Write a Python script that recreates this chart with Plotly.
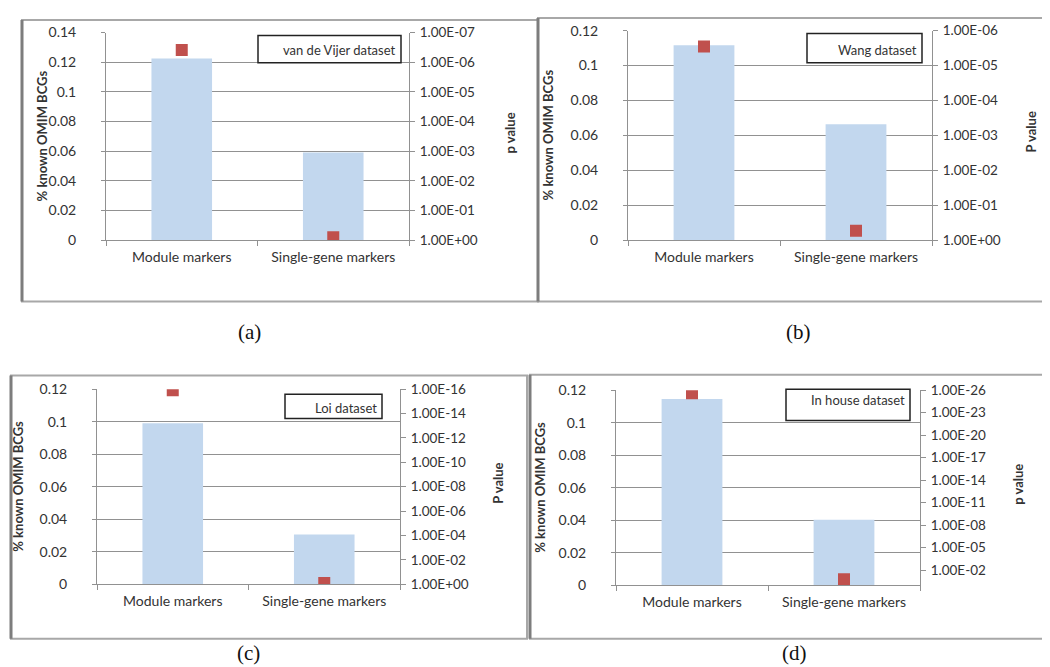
import plotly.graph_objects as go

W, H = 1050, 667

# ---------------- data ----------------
categories = ["Module markers", "Single-gene markers"]

pct_a = [0.1225, 0.0592]
pval_a = [3.9e-7, 0.80]
pct_b = [0.1116, 0.0664]
pval_b = [2.85e-6, 0.54]
pct_c = [0.0990, 0.0306]
pval_c = [1.2e-16, 0.80]
pct_d = [0.1146, 0.0402]
pval_d = [2.5e-26, 0.17]

left_vals_a = [0, 0.02, 0.04, 0.06, 0.08, 0.1, 0.12, 0.14]
left_text_a = ["0", "0.02", "0.04", "0.06", "0.08", "0.1", "0.12", "0.14"]
left_vals_bcd = [0, 0.02, 0.04, 0.06, 0.08, 0.1, 0.12]
left_text_bcd = ["0", "0.02", "0.04", "0.06", "0.08", "0.1", "0.12"]

right_vals_a = [1e0, 1e-1, 1e-2, 1e-3, 1e-4, 1e-5, 1e-6, 1e-7]
right_text_a = ["1.00E+00", "1.00E-01", "1.00E-02", "1.00E-03",
                "1.00E-04", "1.00E-05", "1.00E-06", "1.00E-07"]
right_vals_b = [1e0, 1e-1, 1e-2, 1e-3, 1e-4, 1e-5, 1e-6]
right_text_b = ["1.00E+00", "1.00E-01", "1.00E-02", "1.00E-03",
                "1.00E-04", "1.00E-05", "1.00E-06"]
right_vals_c = [1e0, 1e-2, 1e-4, 1e-6, 1e-8, 1e-10, 1e-12, 1e-14, 1e-16]
right_text_c = ["1.00E+00", "1.00E-02", "1.00E-04", "1.00E-06", "1.00E-08",
                "1.00E-10", "1.00E-12", "1.00E-14", "1.00E-16"]
right_vals_d = [1e-2, 1e-5, 1e-8, 1e-11, 1e-14, 1e-17, 1e-20, 1e-23, 1e-26]
right_text_d = ["1.00E-02", "1.00E-05", "1.00E-08", "1.00E-11", "1.00E-14",
                "1.00E-17", "1.00E-20", "1.00E-23", "1.00E-26"]

dataset_names = ["van de Vijer dataset", "Wang dataset", "Loi dataset", "In house dataset"]
left_titles = ["% known OMIM BCGs"] * 4
right_titles = ["p value", "P value", "P value", "p value"]
captions = ["(a)", "(b)", "(c)", "(d)"]

# ---------------- layout helpers ----------------
def px(x):
    return x / W

def py(y):
    return 1 - y / H

FONT = "Lato"
TXT = "#333333"
GRID = "#919191"
BAR = "#C2D7EE"
MARK = "#C0504D"

panels = [
    dict(pct=pct_a, pv=pval_a, lv=left_vals_a, lt=left_text_a, lmax=0.14,
         rv=right_vals_a, rt=right_text_a, rlog=-7,
         ax=(98, 401), ay=(16, 229),
         frame=(14, 3, 530, 292),
         box=(250, 19, 393, 47), boxtext_y=34,
         ltitle_x=42, rtitle_x=510, cap=(241, 323)),
    dict(pct=pct_b, pv=pval_b, lv=left_vals_bcd, lt=left_text_bcd, lmax=0.12,
         rv=right_vals_b, rt=right_text_b, rlog=-6,
         ax=(620, 924), ay=(14, 229),
         frame=(530, 1, 1052, 292),
         box=(799, 17, 914, 47), boxtext_y=34,
         ltitle_x=548, rtitle_x=1031, cap=(790, 323)),
    dict(pct=pct_c, pv=pval_c, lv=left_vals_bcd, lt=left_text_bcd, lmax=0.12,
         rv=right_vals_c, rt=right_text_c, rlog=-16,
         ax=(89, 392), ay=(382, 582),
         frame=(3, 368, 519, 638),
         box=(277, 387, 374, 412), boxtext_y=401,
         ltitle_x=18, rtitle_x=498, cap=(240, 653)),
    dict(pct=pct_d, pv=pval_d, lv=left_vals_bcd, lt=left_text_bcd, lmax=0.12,
         rv=right_vals_d, rt=right_text_d, rlog=-26,
         ax=(608, 912), ay=(383, 583),
         frame=(522, 367, 1035, 638),
         box=(778, 382, 902, 414), boxtext_y=393,
         ltitle_x=540, rtitle_x=1018, cap=(786, 653)),
]

TITLE_SHIFT = -8  # compensate rotated-annotation offset

fig = go.Figure()
layout = dict(
    width=W, height=H,
    margin=dict(l=0, r=0, t=0, b=0),
    paper_bgcolor="white", plot_bgcolor="rgba(0,0,0,0)",
    showlegend=False,
    font=dict(family=FONT, size=13, color=TXT),
)
shapes = []
annotations = []

for i, p in enumerate(panels):
    n = i + 1
    xk = "x" if n == 1 else f"x{n}"
    yk = "y" if n == 1 else f"y{n}"
    yrk = f"y{n + 4}"
    xa = "xaxis" if n == 1 else f"xaxis{n}"
    ya = "yaxis" if n == 1 else f"yaxis{n}"
    yra = f"yaxis{n + 4}"

    fig.add_trace(go.Bar(x=categories, y=p["pct"], width=0.4,
                         marker=dict(color=BAR, line=dict(width=0)),
                         xaxis=xk, yaxis=yk, hoverinfo="skip"))
    fig.add_trace(go.Scatter(x=categories, y=p["pv"], mode="markers",
                             marker=dict(symbol="square", size=12, color=MARK),
                             xaxis=xk, yaxis=yrk, hoverinfo="skip"))

    x0, x1 = p["ax"]
    ytop, ybot = p["ay"]
    layout[xa] = dict(domain=[px(x0), px(x1)], anchor=yk,
                      type="category", showline=True, linecolor=GRID, linewidth=1,
                      ticks="outside", ticklen=5, tickcolor=GRID, tickson="boundaries",
                      showgrid=False, zeroline=False, ticklabelstandoff=4,
                      tickfont=dict(family=FONT, size=14, color=TXT),
                      range=[-0.5, 1.5], fixedrange=True)
    layout[ya] = dict(domain=[py(ybot), py(ytop)], anchor=xk,
                      range=[0, p["lmax"]], tickvals=p["lv"], ticktext=p["lt"],
                      showline=True, linecolor=GRID, linewidth=1,
                      ticks="outside", ticklen=4, tickcolor=GRID,
                      showgrid=True, gridcolor=GRID, gridwidth=1, zeroline=False,
                      ticklabelstandoff=22,
                      tickfont=dict(family=FONT, size=14, color=TXT), fixedrange=True)
    layout[yra] = dict(overlaying=yk, anchor=xk, side="right", type="log",
                       range=[0, p["rlog"]], tickvals=p["rv"], ticktext=p["rt"],
                       showline=True, linecolor=GRID, linewidth=1,
                       ticks="outside", ticklen=5, tickcolor=GRID,
                       showgrid=False, zeroline=False, ticklabelstandoff=2,
                       tickfont=dict(family=FONT, size=13.5, color=TXT), fixedrange=True)

    # panel frame
    fx0, fy0, fx1, fy1 = p["frame"]
    shapes.append(dict(type="rect", xref="paper", yref="paper",
                       x0=px(fx0), x1=px(fx1), y0=py(fy1), y1=py(fy0),
                       line=dict(color="#a8a8a8", width=2), layer="below"))
    shapes.append(dict(type="line", xref="paper", yref="paper",
                       x0=px(fx0), x1=px(fx0), y0=py(fy1), y1=py(fy0),
                       line=dict(color="#7d7d7d", width=3)))

    # dataset label box
    bx0, by0, bx1, by1 = p["box"]
    shapes.append(dict(type="rect", xref="paper", yref="paper",
                       x0=px(bx0), x1=px(bx1), y0=py(by1), y1=py(by0),
                       line=dict(color="#222222", width=1.5), fillcolor="white"))
    annotations.append(dict(xref="paper", yref="paper", x=px(bx1 - 3), y=py(p["boxtext_y"]),
                            text=dataset_names[i], showarrow=False,
                            xanchor="right", yanchor="middle",
                            font=dict(family=FONT, size=13, color=TXT)))

    # axis titles
    ymid = (ytop + ybot) / 2
    annotations.append(dict(xref="paper", yref="paper",
                            x=px(p["ltitle_x"] + TITLE_SHIFT), y=py(ymid),
                            text=f"<b>{left_titles[i]}</b>", showarrow=False, textangle=-90,
                            xanchor="center", yanchor="middle",
                            font=dict(family=FONT, size=13, color=TXT)))
    annotations.append(dict(xref="paper", yref="paper",
                            x=px(p["rtitle_x"] + TITLE_SHIFT), y=py(ymid - 3),
                            text=f"<b>{right_titles[i]}</b>", showarrow=False, textangle=-90,
                            xanchor="center", yanchor="middle",
                            font=dict(family=FONT, size=13, color=TXT)))
    # caption
    cx, cy = p["cap"]
    annotations.append(dict(xref="paper", yref="paper", x=px(cx), y=py(cy),
                            text=captions[i], showarrow=False,
                            xanchor="center", yanchor="middle",
                            font=dict(family="Liberation Serif", size=21, color="#111111")))

layout["shapes"] = shapes
layout["annotations"] = annotations
fig.update_layout(**layout)
fig.write_html("out.html")
